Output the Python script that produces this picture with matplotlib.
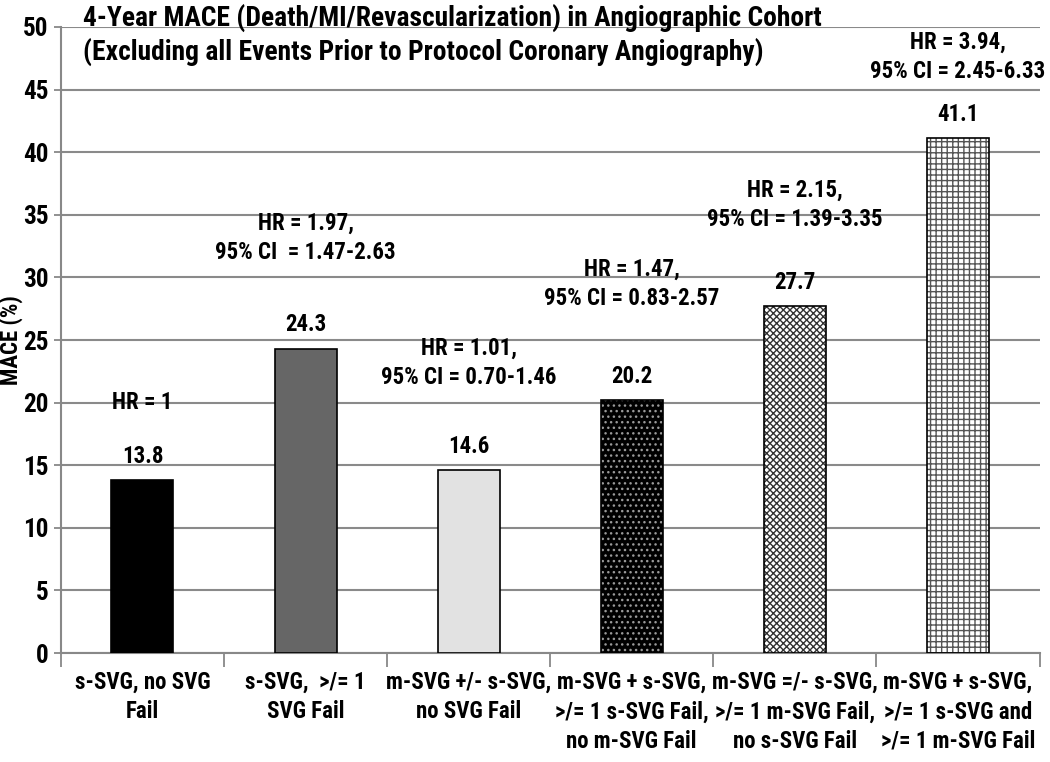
import numpy as np
import matplotlib.pyplot as plt
from matplotlib import font_manager

#---------------------------------------
# donnees du graphique
categories = ["s-SVG, no SVG\nFail",
              "s-SVG,  >/= 1\nSVG Fail",
              "m-SVG +/- s-SVG,\nno SVG Fail",
              "m-SVG + s-SVG,\n>/= 1 s-SVG Fail,\nno m-SVG Fail",
              "m-SVG =/- s-SVG,\n>/= 1 m-SVG Fail,\nno s-SVG Fail",
              "m-SVG + s-SVG,\n>/= 1 s-SVG and\n>/= 1 m-SVG Fail"]
mace = [13.8, 24.3, 14.6, 20.2, 27.7, 41.1]
hr_labels = ["HR = 1",
             "HR = 1.97,\n95% CI  = 1.47-2.63",
             "HR = 1.01,\n95% CI = 0.70-1.46",
             "HR = 1.47,\n95% CI = 0.83-2.57",
             "HR = 2.15,\n95% CI = 1.39-3.35",
             "HR = 3.94,\n95% CI = 2.45-6.33"]
# centre vertical (en %) du texte HR
hr_y = [20.0, 33.15, 23.2, 29.45, 35.8, 47.6]
title = ("4-Year MACE (Death/MI/Revascularization) in Angiographic Cohort\n"
         "(Excluding all Events Prior to Protocol Coronary Angiography)")
#---------------------------------------

# on cherche une police etroite (type Arial Narrow), sinon Liberation Sans
noms = set(f.name for f in font_manager.fontManager.ttflist)
police = 'Liberation Sans'
FS = 14
for cand in ['Liberation Sans Narrow', 'Arial Narrow', 'Roboto Condensed']:
    if cand in noms:
        police = cand
        FS = 16.5
        break
plt.rcParams['font.family'] = [police, 'DejaVu Sans']
plt.rcParams['font.weight'] = 'bold'

fig = plt.figure(figsize=(10.5, 7.62), dpi=100)
ax = fig.add_axes([0.058, 0.143, 0.932, 0.8216])

x = np.arange(len(mace))
w = 0.38
faces = ['black', '#666666', '#e2e2e2', 'black', 'white', 'white']
hatches = [None, None, None, '...', 'xxxxx', '+++']
hcolors = ['black', 'black', 'black', '#999999', '#333333', '#555555']

for i in range(len(mace)):
    ax.bar(x[i], mace[i], w, color=faces[i], edgecolor=hcolors[i],
           hatch=hatches[i], linewidth=0, zorder=3)
    ax.bar(x[i], mace[i], w, fill=False, edgecolor='black', linewidth=1.2, zorder=4)
    ax.text(x[i], mace[i] + 1.9, '%.1f' % mace[i], ha='center', va='center',
            fontsize=FS, fontweight='bold')
    ax.text(x[i], hr_y[i], hr_labels[i], ha='center', va='center',
            fontsize=FS, fontweight='bold', linespacing=1.35)

ax.text(-0.365, 49.36, title, ha='left', va='center', fontsize=FS * 1.2,
        fontweight='bold', linespacing=1.25)

ax.set_xlim(-0.5, len(mace) - 0.5)
ax.set_ylim(0, 50)
ax.set_yticks(np.arange(0, 51, 5))
ax.set_xticks(x)
ax.set_xticklabels(categories, fontsize=FS, fontweight='bold', linespacing=1.35)
ax.set_xticks(np.arange(-0.5, len(mace) + 0.5, 1), minor=True)
ax.tick_params(axis='x', which='major', length=0, pad=13)
ax.tick_params(axis='x', which='minor', length=10, color='#888888', width=1.3)
ax.tick_params(axis='y', labelsize=FS * 1.1, length=5, color='#888888', width=1.3, pad=4)
ax.set_ylabel('MACE (%)', fontsize=FS, fontweight='bold')
ax.yaxis.set_label_coords(-0.039, 0.5)
ax.yaxis.grid(True, color='#8a8a8a', linewidth=1.5, zorder=0)
ax.set_axisbelow(True)
for s in ['top', 'right']:
    ax.spines[s].set_visible(False)
for s in ['left', 'bottom']:
    ax.spines[s].set_color('#888888')
    ax.spines[s].set_linewidth(1.5)

fig.savefig('out.png', dpi=100)
